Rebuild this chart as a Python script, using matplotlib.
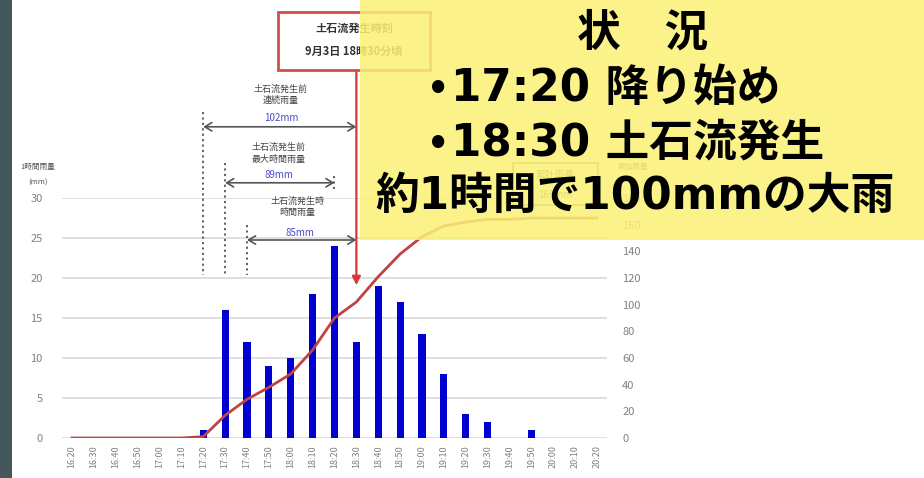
import matplotlib
matplotlib.use("Agg")
import matplotlib.pyplot as plt
from matplotlib.patches import Rectangle
import numpy as np

plt.rcParams['font.family'] = ['Noto Sans CJK JP', 'DejaVu Sans']

# ---- data ----
times = ["16:20", "16:30", "16:40", "16:50", "17:00", "17:10", "17:20", "17:30",
         "17:40", "17:50", "18:00", "18:10", "18:20", "18:30", "18:40", "18:50",
         "19:00", "19:10", "19:20", "19:30", "19:40", "19:50", "20:00", "20:10", "20:20"]
hourly_rain = [0, 0, 0, 0, 0, 0, 1, 16, 12, 9, 10, 18, 24, 12, 19, 17, 13, 8, 3, 2, 0, 1, 0, 0, 0]
cumulative_rain = [0, 0, 0, 0, 0, 0, 1, 17, 29, 38, 48, 66, 90, 102, 121, 138, 151, 159,
                   162, 164, 164, 165, 165, 165, 165]
left_ticks = [0, 5, 10, 15, 20, 25, 30]
right_ticks = [0, 20, 40, 60, 80, 100, 120, 140, 160, 180]

W, H = 924, 478
fig = plt.figure(figsize=(W / 100, H / 100), dpi=100)
fig.patch.set_facecolor("white")

def fx(x):
    return x / W

def fy(y):
    return 1 - y / H

# dark photo strip at the left edge
fig.patches.append(Rectangle((0, 0), fx(12), 1, transform=fig.transFigure,
                             facecolor="#44575a", edgecolor="none", zorder=0))

ax = fig.add_axes([fx(62), fy(438), fx(607) - fx(62), fy(198) - fy(438)])
ax.set_facecolor("none")
n = len(times)
xs = np.arange(n)
ax.set_xlim(-0.457, n - 1 + 0.457)
ax.set_ylim(0, 30)
for s in ax.spines.values():
    s.set_visible(False)
for v in left_ticks:
    ax.axhline(v, color="#d9d9d9", lw=1.2, zorder=0)
ax.bar(xs, hourly_rain, width=0.33, color="#0000d0", zorder=2)
ax.set_yticks(left_ticks)
ax.set_yticklabels([str(v) for v in left_ticks])
ax.tick_params(axis="y", length=0, pad=14, labelsize=8, labelcolor="#808080")
ax.set_xticks(xs)
ax.set_xticklabels(times, rotation=90)
ax.tick_params(axis="x", length=0, pad=5, labelsize=6.5, labelcolor="#808080")

ax2 = ax.twinx()
ax2.set_ylim(0, 180)
for s in ax2.spines.values():
    s.set_visible(False)
ax2.plot(xs, cumulative_rain, color="#bc4444", lw=2, zorder=3)
ax2.set_yticks(right_ticks)
ax2.set_yticklabels([str(v) for v in right_ticks])
ax2.tick_params(axis="y", length=0, pad=11, labelsize=8, labelcolor="#808080")

# axis titles
fig.text(fx(38), fy(167), "1時間雨量", fontsize=5.5, color="#555555", ha="center", va="center")
fig.text(fx(38), fy(183), "(mm)", fontsize=5.5, color="#555555", ha="center", va="center")
fig.text(fx(633), fy(167), "累加雨量", fontsize=5.5, color="#555555", ha="center", va="center")

# annotations (in left-axis data coordinates)
kw = dict(clip_on=False)
for xi, y0, y1 in [(6, 40.8, 20.4), (7, 34.4, 20.4), (8, 26.6, 20.4), (12, 32.8, 30.8)]:
    ax.plot([xi, xi], [y0, y1], color="#555555", lw=1.3, ls=(0, (1.2, 1.8)), **kw)

def darrow(x0, x1, y):
    ax.annotate("", xy=(x1, y), xytext=(x0, y), annotation_clip=False,
                arrowprops=dict(arrowstyle="<->,head_length=0.5,head_width=0.3",
                                color="#555555", lw=1.2, shrinkA=0, shrinkB=0))

darrow(6, 13, 38.9)
darrow(7, 12, 31.9)
darrow(8, 13, 24.75)

tk = dict(fontsize=6.5, color="#444444", ha="center", va="center", linespacing=1.35)
ax.text(9.55, 42.9, "土石流発生前\n連続雨量", **tk)
ax.text(9.55, 40.0, "102mm", fontsize=7, color="#4a4ac8", ha="center", va="center")
ax.text(9.45, 35.6, "土石流発生前\n最大時間雨量", **tk)
ax.text(9.45, 32.9, "89mm", fontsize=7, color="#4a4ac8", ha="center", va="center")
ax.text(10.3, 28.9, "土石流発生時\n時間雨量", **tk)
ax.text(10.4, 25.6, "85mm", fontsize=7, color="#4a4ac8", ha="center", va="center")

# red vertical arrow at 18:30
ax.annotate("", xy=(13, 19.1), xytext=(13, 46.0), annotation_clip=False,
            arrowprops=dict(arrowstyle="-|>,head_length=0.5,head_width=0.25",
                            color="#d83838", lw=1.6, shrinkA=0, shrinkB=0))

# red title box
fig.patches.append(Rectangle((fx(278), fy(70)), fx(430) - fx(278), fy(12) - fy(70),
                             transform=fig.transFigure, facecolor="white",
                             edgecolor="#d84a4a", lw=2, zorder=5))
fig.text(fx(354), fy(28), "土石流発生時刻", fontsize=8, color="#333333",
         ha="center", va="center", weight="bold", zorder=6)
fig.text(fx(354), fy(51), "9月3日 18時30分頃", fontsize=8, color="#333333",
         ha="center", va="center", weight="bold", zorder=6)

# total box (seen through the yellow overlay)
fig.patches.append(Rectangle((fx(513), fy(205)), fx(598) - fx(513), fy(163) - fy(205),
                             transform=fig.transFigure, facecolor="white",
                             edgecolor="#888866", lw=1.2, zorder=5))
fig.text(fx(555), fy(175), "累計雨量", fontsize=7, color="#555555", ha="center", va="center", zorder=6)
fig.text(fx(555), fy(195), "165mm", fontsize=7, color="#555555", ha="center", va="center", zorder=6)

# yellow overlay
fig.patches.append(Rectangle((fx(360), fy(240)), 1 - fx(360), fy(0) - fy(240),
                             transform=fig.transFigure, facecolor="#fbf176",
                             edgecolor="none", alpha=0.86, zorder=10))

big = dict(fontsize=31.5, weight="bold", color="black", va="center", zorder=11,
           family=["DejaVu Sans", "Noto Sans CJK JP"])
bullet = dict(fontsize=25, weight="bold", color="black", va="center", ha="center", zorder=11,
              family=["DejaVu Sans"])
fig.text(fx(643), fy(33), "状　況", ha="center", **big)
fig.text(fx(438), fy(90), "•", **bullet)
fig.text(fx(451), fy(88), "17:20 降り始め", ha="left", **big)
fig.text(fx(438), fy(145), "•", **bullet)
fig.text(fx(451), fy(143), "18:30 土石流発生", ha="left", **big)
fig.text(fx(635), fy(196), "約1時間で100mmの大雨", ha="center", **big)

fig.savefig("out.png", dpi=100)
